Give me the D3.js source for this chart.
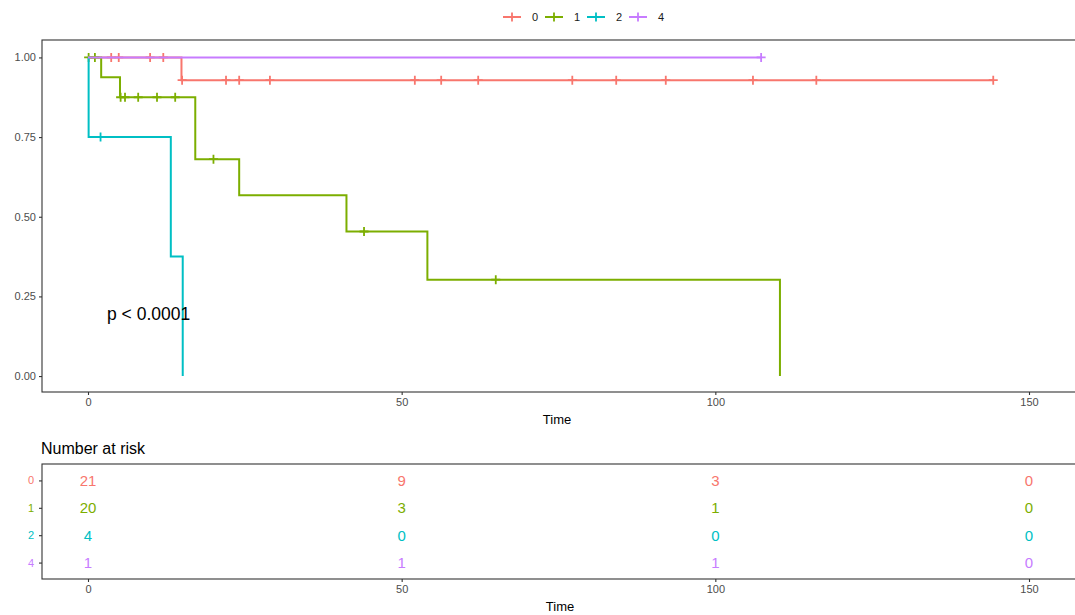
<!DOCTYPE html>
<html>
<head>
<meta charset="utf-8">
<script src="https://cdn.jsdelivr.net/npm/d3@7"></script>
<style>
  html, body { margin: 0; padding: 0; background: #fff; }
  svg { display: block; font-family: "Liberation Sans", Arial, sans-serif; }
</style>
</head>
<body>
<svg id="chart" width="1075" height="615"></svg>
<script>
// Strata and colours
const groups = ["0", "1", "2", "4"];
const groupColors = ["#F8766D", "#7CAE00", "#00BFC4", "#C77CFF"];

// Follow-up times per stratum: events and censored observations
const events0 = [14.9];
const censored0 = [3.7, 3.7, 4.9, 4.9, 9.9, 9.9, 12.0, 15.0, 22.0, 24.1, 29.0, 52.1, 56.3, 62.2, 77.2, 84.2, 92.1, 106.0, 116.1, 144.3];
const events1 = [2.1, 5.1, 17.1, 17.1, 24.1, 41.2, 54.1, 110.3];
const censored1 = [0.1, 0.1, 1.1, 1.1, 5.2, 5.9, 8.0, 11.0, 13.9, 20.0, 44.0, 65.0];
const events2 = [0.1, 13.2, 15.1];
const censored2 = [2.0];
const events4 = [];
const censored4 = [107.3];

const eventSets = [events0, events1, events2, events4];
const censorSets = [censored0, censored1, censored2, censored4];

// Axis ticks
const timeTicks = [0, 50, 100, 150];
const survTicks = [0, 0.25, 0.5, 0.75, 1];

// Number at risk table
const riskTimes = [0, 50, 100, 150];
const risk0 = [21, 9, 3, 0];
const risk1 = [20, 3, 1, 0];
const risk2 = [4, 0, 0, 0];
const risk4 = [1, 1, 1, 0];
const riskRows = [risk0, risk1, risk2, risk4];

const pLabel = "p < 0.0001";

// Kaplan-Meier estimate: returns step path and censor mark positions
function kaplanMeier(events, censored) {
  const recs = events.map(t => ({t, e: 1})).concat(censored.map(t => ({t, e: 0})));
  const times = Array.from(new Set(recs.map(r => r.t))).sort((a, b) => a - b);
  let s = 1;
  const path = [[0, 1]];
  const marks = [];
  for (const t of times) {
    const atRisk = recs.filter(r => r.t >= t).length;
    const d = recs.filter(r => r.t === t && r.e === 1).length;
    path.push([t, s]);
    if (d > 0) { s *= (atRisk - d) / atRisk; path.push([t, s]); }
    if (recs.some(r => r.t === t && r.e === 0)) marks.push([t, s]);
  }
  return {path, marks};
}

const svg = d3.select("#chart");
const axisGrey = "#4D4D4D";
const lineDark = "#333333";

// Layout
const panel = {left: 42, top: 40, bottom: 392, right: 1100};
const risk = {top: 464, bottom: 579};

const x = d3.scaleLinear().domain([0, 150]).range([88, 1029]);
const y = d3.scaleLinear().domain([-0.05, 1.05]).range([panel.bottom, 41.5]);

// Main panel border
svg.append("rect")
  .attr("x", panel.left).attr("y", panel.top)
  .attr("width", panel.right - panel.left).attr("height", panel.bottom - panel.top)
  .attr("fill", "none").attr("stroke", lineDark).attr("stroke-width", 1.1);

function styleAxis(g) {
  g.select(".domain").remove();
  g.selectAll(".tick line").attr("stroke", lineDark).attr("stroke-width", 1.1);
  g.selectAll(".tick text").attr("fill", axisGrey).attr("font-size", 11)
    .attr("font-family", "'Liberation Sans', Arial, sans-serif");
}

svg.append("g").attr("transform", `translate(${panel.left},0)`)
  .call(d3.axisLeft(y).tickValues(survTicks).tickFormat(d3.format(".2f")).tickSize(3).tickPadding(3))
  .call(styleAxis);

svg.append("g").attr("transform", `translate(0,${panel.bottom})`)
  .call(d3.axisBottom(x).tickValues(timeTicks).tickFormat(d3.format("d")).tickSize(3).tickPadding(3))
  .call(styleAxis);

svg.append("text").attr("x", 557).attr("y", 424).attr("text-anchor", "middle")
  .attr("font-size", 13).attr("fill", "#000").text("Time");

// Survival curves
const line = d3.line().x(d => x(d[0])).y(d => y(d[1]));
const plus = "M-4.5,0H4.5M0,-4.5V4.5";

groups.forEach((g, i) => {
  const km = kaplanMeier(eventSets[i], censorSets[i]);
  const layer = svg.append("g");
  layer.append("path").attr("d", line(km.path))
    .attr("fill", "none").attr("stroke", groupColors[i]).attr("stroke-width", 2);
  layer.selectAll("path.mark").data(km.marks).join("path")
    .attr("class", "mark")
    .attr("d", plus)
    .attr("transform", d => `translate(${x(d[0])},${y(d[1])})`)
    .attr("stroke", groupColors[i]).attr("stroke-width", 1.8).attr("fill", "none");
});

// p-value
svg.append("text").attr("x", 107).attr("y", 320)
  .attr("font-size", 17.5).attr("fill", "#000").text(pLabel);

// Legend
const legend = svg.append("g");
groups.forEach((g, i) => {
  const lx = 503 + i * 42, ly = 17;
  legend.append("line").attr("x1", lx).attr("x2", lx + 18).attr("y1", ly).attr("y2", ly)
    .attr("stroke", groupColors[i]).attr("stroke-width", 2);
  legend.append("path").attr("d", plus).attr("transform", `translate(${lx + 9},${ly})`)
    .attr("stroke", groupColors[i]).attr("stroke-width", 1.8);
  legend.append("text").attr("x", lx + 29).attr("y", ly + 4)
    .attr("font-size", 11).attr("fill", "#1a1a1a").text(g);
});

// Number at risk table
svg.append("text").attr("x", 41).attr("y", 454)
  .attr("font-size", 16).attr("fill", "#000").text("Number at risk");

const yr = d3.scalePoint().domain(groups).range([risk.top, risk.bottom]).padding(0.6);

svg.append("rect")
  .attr("x", panel.left).attr("y", risk.top)
  .attr("width", panel.right - panel.left).attr("height", risk.bottom - risk.top)
  .attr("fill", "none").attr("stroke", lineDark).attr("stroke-width", 1.1);

const ryAxis = svg.append("g").attr("transform", `translate(${panel.left},0)`)
  .call(d3.axisLeft(yr).tickSize(3).tickPadding(5))
  .call(styleAxis);
ryAxis.selectAll(".tick text").attr("fill", d => groupColors[groups.indexOf(d)]);

svg.append("g").attr("transform", `translate(0,${risk.bottom})`)
  .call(d3.axisBottom(x).tickValues(timeTicks).tickFormat(d3.format("d")).tickSize(3).tickPadding(3))
  .call(styleAxis);

svg.append("text").attr("x", 560).attr("y", 611).attr("text-anchor", "middle")
  .attr("font-size", 13).attr("fill", "#000").text("Time");

groups.forEach((g, i) => {
  svg.append("g").selectAll("text").data(riskTimes.map((t, j) => [t, riskRows[i][j]])).join("text")
    .attr("x", d => x(d[0])).attr("y", yr(g))
    .attr("dy", "0.36em").attr("text-anchor", "middle")
    .attr("font-size", 15).attr("fill", groupColors[i])
    .text(d => d[1]);
});
</script>
</body>
</html>
